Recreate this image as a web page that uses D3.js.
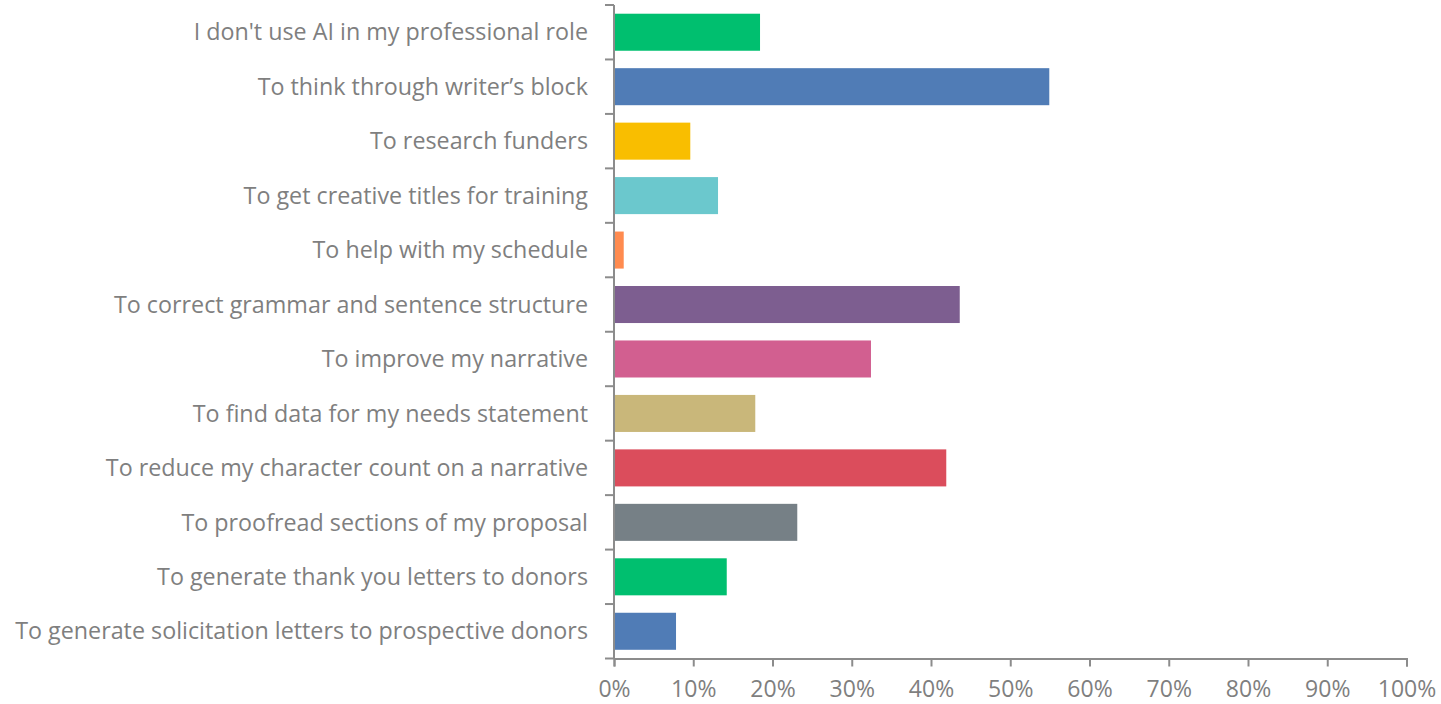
<!DOCTYPE html>
<html><head><meta charset="utf-8">
<script src="https://cdn.jsdelivr.net/npm/d3@7"></script>
<style>
html,body{margin:0;padding:0;background:#fff;}
svg text{font-family:"Open Sans",sans-serif;fill:#7f7f7f;}
</style></head>
<body><svg id="c" width="1441" height="704"></svg>
<script>
const categories = [
  "I don't use AI in my professional role",
  "To think through writer\u2019s block",
  "To research funders",
  "To get creative titles for training",
  "To help with my schedule",
  "To correct grammar and sentence structure",
  "To improve my narrative",
  "To find data for my needs statement",
  "To reduce my character count on a narrative",
  "To proofread sections of my proposal",
  "To generate thank you letters to donors",
  "To generate solicitation letters to prospective donors"
];
const values = [18.3, 54.8, 9.5, 13.0, 1.1, 43.5, 32.3, 17.7, 41.8, 23.0, 14.1, 7.7];
const colors = ["#00BF6F","#507CB6","#F9BE00","#6BC8CD","#FF8B4F","#7D5E90","#D25F90","#C9B77A","#DB4D5C","#768086","#00BF6F","#507CB6"];
const tickValues = [0,10,20,30,40,50,60,70,80,90,100];

(function(){
const svg = d3.select("#c");
const mLeft = 614, mRight = 1406.5, mTop = 5, mBottom = 658.5;
const x = d3.scaleLinear().domain([0,100]).range([mLeft,mRight]);
const y = d3.scaleBand().domain(categories).range([mTop,mBottom]).paddingInner(0.32).paddingOuter(0.16);

svg.append("g").selectAll("rect").data(values).join("rect")
  .attr("x", x(0)+1)
  .attr("y", (d,i)=>y(categories[i]))
  .attr("width", d=>x(d)-x(0))
  .attr("height", y.bandwidth())
  .attr("fill", (d,i)=>colors[i]);

const band = (mBottom-mTop)/categories.length;
const ya = svg.append("g");
ya.append("line").attr("x1",mLeft).attr("x2",mLeft).attr("y1",mTop).attr("y2",mBottom)
  .attr("stroke","#8c8c8c").attr("stroke-width",2);
d3.range(categories.length+1).forEach(i=>{
  ya.append("line").attr("x1",mLeft-9).attr("x2",mLeft).attr("y1",mTop+i*band).attr("y2",mTop+i*band)
    .attr("stroke","#8c8c8c").attr("stroke-width",2);
});
ya.selectAll("text").data(categories).join("text")
  .attr("x", 588)
  .attr("y", d=>y(d)+y.bandwidth()/2)
  .attr("dy","0.35em")
  .attr("text-anchor","end")
  .attr("font-size","23.3px")
  .text(d=>d);

const xa = svg.append("g").attr("transform",`translate(0,${mBottom})`)
  .call(d3.axisBottom(x).tickValues(tickValues).tickFormat(d=>d+"%").tickSize(8).tickPadding(14));
xa.select(".domain").attr("stroke","#8c8c8c").attr("stroke-width",2);
xa.selectAll(".tick line").attr("stroke","#8c8c8c").attr("stroke-width",2);
xa.selectAll("text").attr("font-size","23px").attr("font-family","Open Sans, sans-serif").attr("fill","#7f7f7f");
})();
</script></body></html>
